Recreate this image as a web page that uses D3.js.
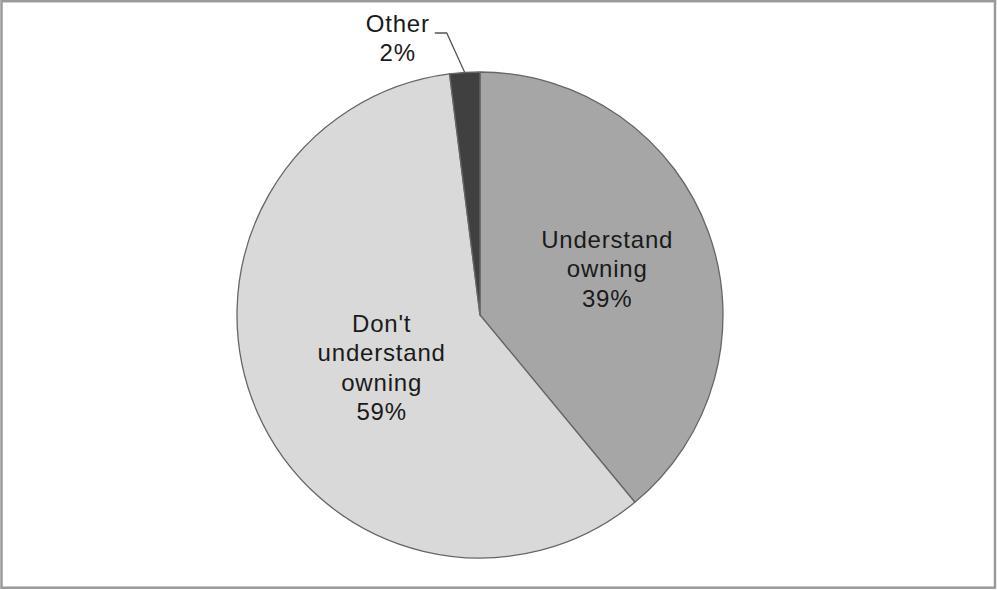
<!DOCTYPE html>
<html>
<head>
<meta charset="utf-8">
<script src="https://cdn.jsdelivr.net/npm/d3@7/dist/d3.min.js"></script>
<style>
  html, body { margin: 0; padding: 0; background: #fff; }
  svg { display: block; }
  text { font-family: "Liberation Sans", Arial, sans-serif; fill: #1a1a1a; letter-spacing: 0.8px; }
</style>
</head>
<body>
<svg id="chart" width="997" height="590"></svg>
<script>
// Survey shares, clockwise from 12 o'clock
const categories = ["Understand owning", "Don't understand owning", "Other"];
const values = [39, 59, 2];
const labelLines = [["Understand", "owning", "39%"], ["Don't", "understand", "owning", "59%"], ["Other", "2%"]];
const colors = ["#a6a6a6", "#d9d9d9", "#404040"];

const W = 997, H = 590;
const cx = 480, cy = 315, R = 243;
const fontSize = 24, lineH = 29.5;

const svg = d3.select("#chart");

// outer frame
svg.append("rect")
  .attr("x", 1.5).attr("y", 1.2)
  .attr("width", W - 3.5).attr("height", H - 3.5)
  .attr("fill", "#fff")
  .attr("stroke", "#9a9a9a")
  .attr("stroke-width", 2.5);

const pie = d3.pie().sort(null).value(d => d.value);
const data = categories.map((c, i) => ({ name: c, value: values[i], lines: labelLines[i], color: colors[i] }));
const arcs = pie(data);

const arc = d3.arc().innerRadius(0).outerRadius(R);
const g = svg.append("g").attr("transform", `translate(${cx},${cy})`);

g.selectAll("path.slice")
  .data(arcs)
  .join("path")
  .attr("class", "slice")
  .attr("d", arc)
  .attr("fill", d => d.data.color)
  .attr("stroke", "#666")
  .attr("stroke-width", 1.3)
  .attr("stroke-linejoin", "round");

// inside labels sit on the centroid of a smaller arc
const labelRadius = [0.53, 0.45];
const labelShift = [[6, -3], [2, 9]];

function drawLabel(x, y, lines) {
  const t = g.append("text")
    .attr("text-anchor", "middle")
    .attr("font-size", fontSize);
  const n = lines.length;
  lines.forEach((ln, k) => {
    t.append("tspan")
      .attr("x", x)
      .attr("y", y + (k - (n - 1) / 2) * lineH + fontSize * 0.36)
      .text(ln);
  });
}

arcs.slice(0, 2).forEach((d, i) => {
  const r = R * labelRadius[i];
  const c = d3.arc().innerRadius(r).outerRadius(r).centroid(d);
  drawLabel(c[0] + labelShift[i][0], c[1] + labelShift[i][1], d.data.lines);
});

// small slice: outside label with a leader line
const other = arcs[2];
const mid = (other.startAngle + other.endAngle) / 2;
const edge = [R * Math.sin(mid), -R * Math.cos(mid)];
const elbow = [edge[0] - 18, -R - 39];
const end = [elbow[0] - 12, elbow[1]];
g.append("polyline")
  .attr("points", [edge, elbow, end].map(p => p.join(",")).join(" "))
  .attr("fill", "none")
  .attr("stroke", "#555")
  .attr("stroke-width", 1.3);

drawLabel(end[0] - 37, -R - 34, other.data.lines);
</script>
</body>
</html>
